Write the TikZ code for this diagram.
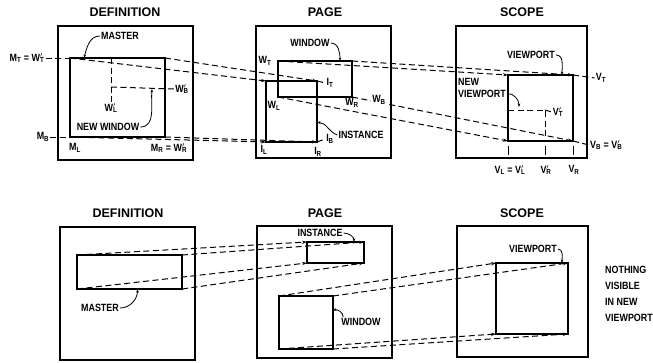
\documentclass[tikz,border=0pt]{standalone}
\usepackage{fontspec}
\setmainfont{Liberation Sans}
\newfontfamily\labfont{Liberation Sans}[FakeStretch=0.85]
\usetikzlibrary{arrows.meta}
\newcommand\lsub[2]{#1\textsubscript{#2}}
\newcommand\lpsub[2]{#1\rlap{$'$}\textsubscript{#2}}

\begin{document}
\begin{tikzpicture}[
  x=1pt,y=-1pt,>={Stealth[length=5pt,width=3.2pt]},
  every node/.style={font=\labfont\bfseries\fontsize{10.5}{12}\selectfont,inner sep=1pt},
  heading/.style={font=\bfseries\fontsize{12.5}{14}\selectfont},
  boxframe/.style={draw,line width=1.4pt,inner sep=0pt,outer sep=0pt},
  rectarea/.style={draw,line width=1.1pt,inner sep=0pt,outer sep=0pt},
  proj/.style={line width=1pt,dash pattern=on 6pt off 3.5pt},
  callout/.style={->,line width=0.8pt,>={Stealth[length=3.5pt,width=2.6pt]}}
]
  \useasboundingbox (0,0) rectangle (653,362);

  % upper row
  \node[heading] (deftitle) at (125,12) {DEFINITION};
  \node[heading] (pagetitle) at (325,12) {PAGE};
  \node[heading] (scopetitle) at (522,12) {SCOPE};
  \node[boxframe,minimum width=135pt,minimum height=134pt] (defbox) at (125.5,93) {};
  \node[boxframe,minimum width=135pt,minimum height=132pt] (pagebox) at (323.5,92) {};
  \node[boxframe,minimum width=131pt,minimum height=132pt] (scopebox) at (521.5,92) {};
  \node[rectarea,minimum width=95pt,minimum height=79pt] (master) at (117.5,97.5) {};
  \node[rectarea,minimum width=74pt,minimum height=36pt] (window) at (315,79) {};
  \node[rectarea,minimum width=51pt,minimum height=61pt] (instance) at (291.5,111.5) {};
  \node[rectarea,minimum width=65pt,minimum height=66pt] (viewport) at (540.5,108) {};

  % lower row
  \node[heading] (deftitle2) at (128,213) {DEFINITION};
  \node[heading] (pagetitle2) at (325,213) {PAGE};
  \node[heading] (scopetitle2) at (522,213) {SCOPE};
  \node[boxframe,minimum width=135pt,minimum height=133pt] (defbox2) at (127.5,293.5) {};
  \node[boxframe,minimum width=135pt,minimum height=132pt] (pagebox2) at (324.5,292) {};
  \node[boxframe,minimum width=131pt,minimum height=131pt] (scopebox2) at (522.5,291.5) {};
  \node[rectarea,minimum width=105pt,minimum height=34pt] (master2) at (129.5,272) {};
  \node[rectarea,minimum width=57pt,minimum height=21pt] (instance2) at (335.5,252.5) {};
  \node[rectarea,minimum width=54pt,minimum height=53pt] (window2) at (306,322.5) {};
  \node[rectarea,minimum width=72pt,minimum height=71pt] (viewport2) at (532,298.5) {};

  \foreach \a/\b in {master/instance,window/viewport,master2/instance2,window2/viewport2}
    \foreach \c in {north west,north east,south west,south east}
      \draw[proj,->] (\a.\c) -- (\b.\c);

  % definition labels
  \node (mtlab) at (27,58) {\lsub{M}{T} = \lpsub{W}{T}};
  \draw[proj] (mtlab.east) -- (master.north west);
  \node (mblab) at (43,137) {\lsub{M}{B}};
  \draw[proj] (mblab.east) -- (master.south west);
  \node (mlab) at (120,36) {MASTER};
  \draw[callout] (mlab.west) to[out=180,in=75] ([xshift=14pt]master.north west);
  \coordinate (nwtop) at (111,58);
  \coordinate (nwcor) at (111,87);
  \coordinate (nwtip) at (152,89);
  \node (wlplab) at (111,108) {\lpsub{W}{L}};
  \node (wbplab) at (182,89) {\lpsub{W}{B}};
  \draw[proj] (nwtop) -- (wlplab.north);
  \draw[proj] (nwcor) -- (wbplab.west);
  \node (nwlab) at (108,127) {NEW WINDOW};
  \draw[callout] (nwlab.east) to[out=0,in=-95] (nwtip);
  \node (mllab) at (75,148) {\lsub{M}{L}};
  \node (mrlab) at (169,148) {\lsub{M}{R} = \lpsub{W}{R}};

  % page labels
  \node (wtlab) at (265,61) {\lsub{W}{T}};
  \node (winlab) at (310,43) {WINDOW};
  \draw[callout] (winlab.east) to[out=0,in=90] ([xshift=-12pt]window.north east);
  \node (itlab) at (330,83) {\lsub{I}{T}};
  \draw[proj] (instance.north east) -- (itlab.west);
  \node (wllab) at (274,106) {\lsub{W}{L}};
  \node (wrlab) at (352,103) {\lsub{W}{R}};
  \node[fill=white] (wblab) at (379,100) {\lsub{W}{B}};
  \node (iblab) at (330,139) {\lsub{I}{B}};
  \draw[proj] (instance.south east) -- (iblab.west);
  \node (inslab) at (361,135) {INSTANCE};
  \draw[callout] (inslab.west) to[out=160,in=0] ([yshift=-11pt]instance.east);
  \node (illab) at (264,150) {\lsub{I}{L}};
  \node (irlab) at (318,152) {\lsub{I}{R}};

  % scope labels
  \node (vplab) at (531,55) {VIEWPORT};
  \draw[callout] (vplab.east) to[out=0,in=90] ([xshift=-11pt]viewport.north east);
  \node[align=left,anchor=west] (nvlab) at (457,88) {NEW\\VIEWPORT};
  \coordinate (nvtip) at (519,107);
  \draw[callout] ([yshift=5.5pt]nvlab.south east) to[out=0,in=90] (nvtip);
  \coordinate (nvl) at (508,110);
  \coordinate (nvr) at (545,110);
  \coordinate (nvb) at (545,141);
  \draw[proj] (nvl) -- (nvr) -- (nvb);
  \node (vtplab) at (558,112) {\lpsub{V}{T}};
  \draw[proj] (nvr) -- (vtplab.west);
  \node (vtlab) at (601,78) {\lsub{V}{T}};
  \draw[proj] (viewport.north east) -- (vtlab.west);
  \node[anchor=west] (vblab) at (589,145) {\lsub{V}{B} = \lpsub{V}{B}};
  \draw[proj] (viewport.south east) -- (vblab.west);
  \foreach \x in {508,545,573}
    \draw[line width=0.9pt] (\x,146) -- (\x,155);
  \node (vllab) at (510,170) {\lsub{V}{L} = \lpsub{V}{L}};
  \node (vrplab) at (546,170) {\lpsub{V}{R}};
  \node (vrlab) at (574,170) {\lsub{V}{R}};

  % lower row labels
  \node (mlab2) at (100,308) {MASTER};
  \draw[callout] (mlab2.east) to[out=0,in=-90] ([xshift=8pt]master2.south);
  \node (inslab2) at (320,233) {INSTANCE};
  \draw[callout] (inslab2.east) to[out=0,in=90] ([xshift=-10pt]instance2.north east);
  \node (winlab2) at (361,322) {WINDOW};
  \draw[callout] ([xshift=3pt]winlab2.north west) to[out=90,in=20] ([yshift=12pt]window2.east);
  \node (vplab2) at (533,249) {VIEWPORT};
  \draw[callout] (vplab2.east) to[out=0,in=90] ([xshift=-6pt]viewport2.north east);
  \node[align=left,anchor=west,font=\labfont\bfseries\fontsize{10.5}{16}\selectfont] (nothing) at (604,294)
    {NOTHING\\VISIBLE\\IN NEW\\VIEWPORT};
\end{tikzpicture}
\end{document}
